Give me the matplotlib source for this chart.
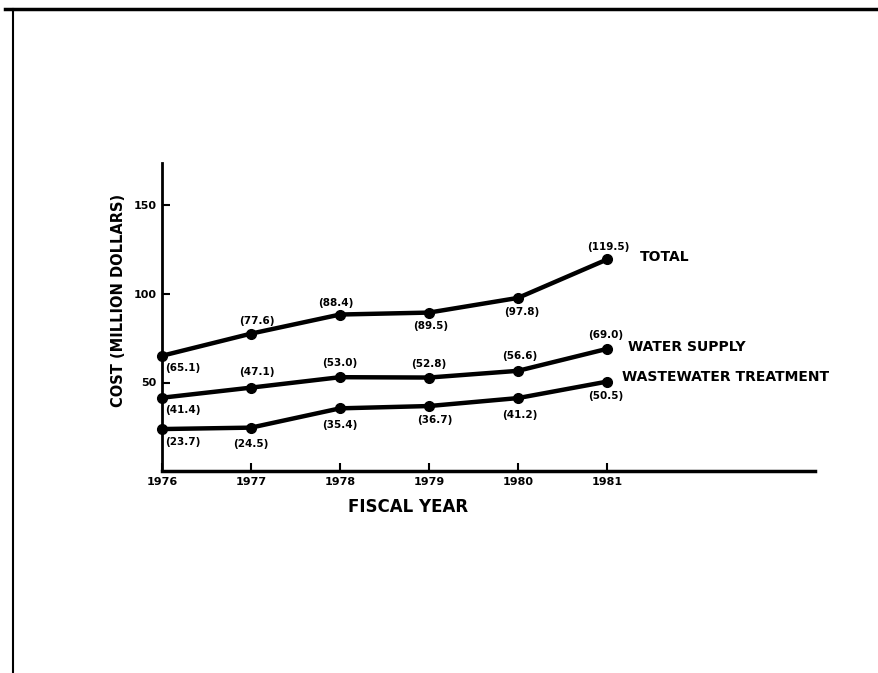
import matplotlib
matplotlib.use("Agg")
import matplotlib.pyplot as plt
from matplotlib.lines import Line2D

years = [1976, 1977, 1978, 1979, 1980, 1981]
total = [65.1, 77.6, 88.4, 89.5, 97.8, 119.5]
water_supply = [41.4, 47.1, 53.0, 52.8, 56.6, 69.0]
wastewater = [23.7, 24.5, 35.4, 36.7, 41.2, 50.5]
y_ticks = [50, 100, 150]
series_names = ["TOTAL", "WATER SUPPLY", "WASTEWATER TREATMENT"]

plt.rcParams['font.family'] = ['DejaVu Sans']
plt.rcParams['font.weight'] = 'bold'

W, H = 879, 673
fig = plt.figure(figsize=(W / 100, H / 100), dpi=100)
ax = fig.add_axes([162 / W, 1 - 471 / H, (815 - 162) / W, (471 - 163) / H])

ax.set_xlim(1976, 1976 + (815 - 162) / 89.0)
ax.set_ylim(0, (471 - 163) / 1.77)

for vals in (total, water_supply, wastewater):
    ax.plot(years, vals, color='black', lw=3.2, marker='o', ms=7, solid_capstyle='round',
            clip_on=False, zorder=3)

# data label offsets in points (dx, dy, ha)
offs_total = [(2, -9, 'left'), (4, 9, 'center'), (-3, 8, 'center'), (1, -10, 'center'), (3, -10, 'center'), (1, 9, 'center')]
offs_water = [(2, -9, 'left'), (4, 11, 'center'), (0, 10, 'center'), (0, 10, 'center'), (1, 11, 'center'), (-1, 10, 'center')]
offs_waste = [(2, -9, 'left'), (0, -12, 'center'), (0, -12, 'center'), (4, -10, 'center'), (1, -12, 'center'), (-1, -10, 'center')]

for vals, offs in ((total, offs_total), (water_supply, offs_water), (wastewater, offs_waste)):
    for x, v, (dx, dy, ha) in zip(years, vals, offs):
        ax.annotate(f"({v:.1f})", (x, v), xytext=(dx, dy), textcoords='offset points',
                    ha=ha, va='center', fontsize=7.5, fontweight='bold', color='black')

label_offs = [(24, 2), (15, 1), (11, 3)]
for vals, name, (dx, dy) in zip((total, water_supply, wastewater), series_names, label_offs):
    ax.annotate(name, (years[-1], vals[-1]), xytext=(dx, dy), textcoords='offset points',
                ha='left', va='center', fontsize=10, fontweight='bold', color='black')

ax.spines['top'].set_visible(False)
ax.spines['right'].set_visible(False)
ax.spines['left'].set_linewidth(2)
ax.spines['bottom'].set_linewidth(2.5)

ax.set_xticks(years)
ax.set_xticklabels([str(y) for y in years], fontsize=8, fontweight='bold')
ax.set_yticks(y_ticks)
ax.set_yticklabels([str(t) for t in y_ticks], fontsize=8, fontweight='bold')
ax.tick_params(axis='both', direction='in', length=6, width=1.5, pad=4)

ax.set_xlabel("FISCAL YEAR", fontsize=12, fontweight='bold', x=(408 - 162) / (815 - 162), labelpad=8)
ax.set_ylabel("COST (MILLION DOLLARS)", fontsize=10.5, fontweight='bold',
              y=(471 - 300) / (471 - 163), labelpad=5)

# page frame
fig.add_artist(Line2D([5 / W, 1.0], [1 - 9 / H, 1 - 9 / H], color='black', lw=2.5, transform=fig.transFigure))
fig.add_artist(Line2D([13 / W, 13 / W], [1 - 9 / H, 0], color='black', lw=1.5, transform=fig.transFigure))

fig.savefig("out.png", dpi=100, facecolor='white')
